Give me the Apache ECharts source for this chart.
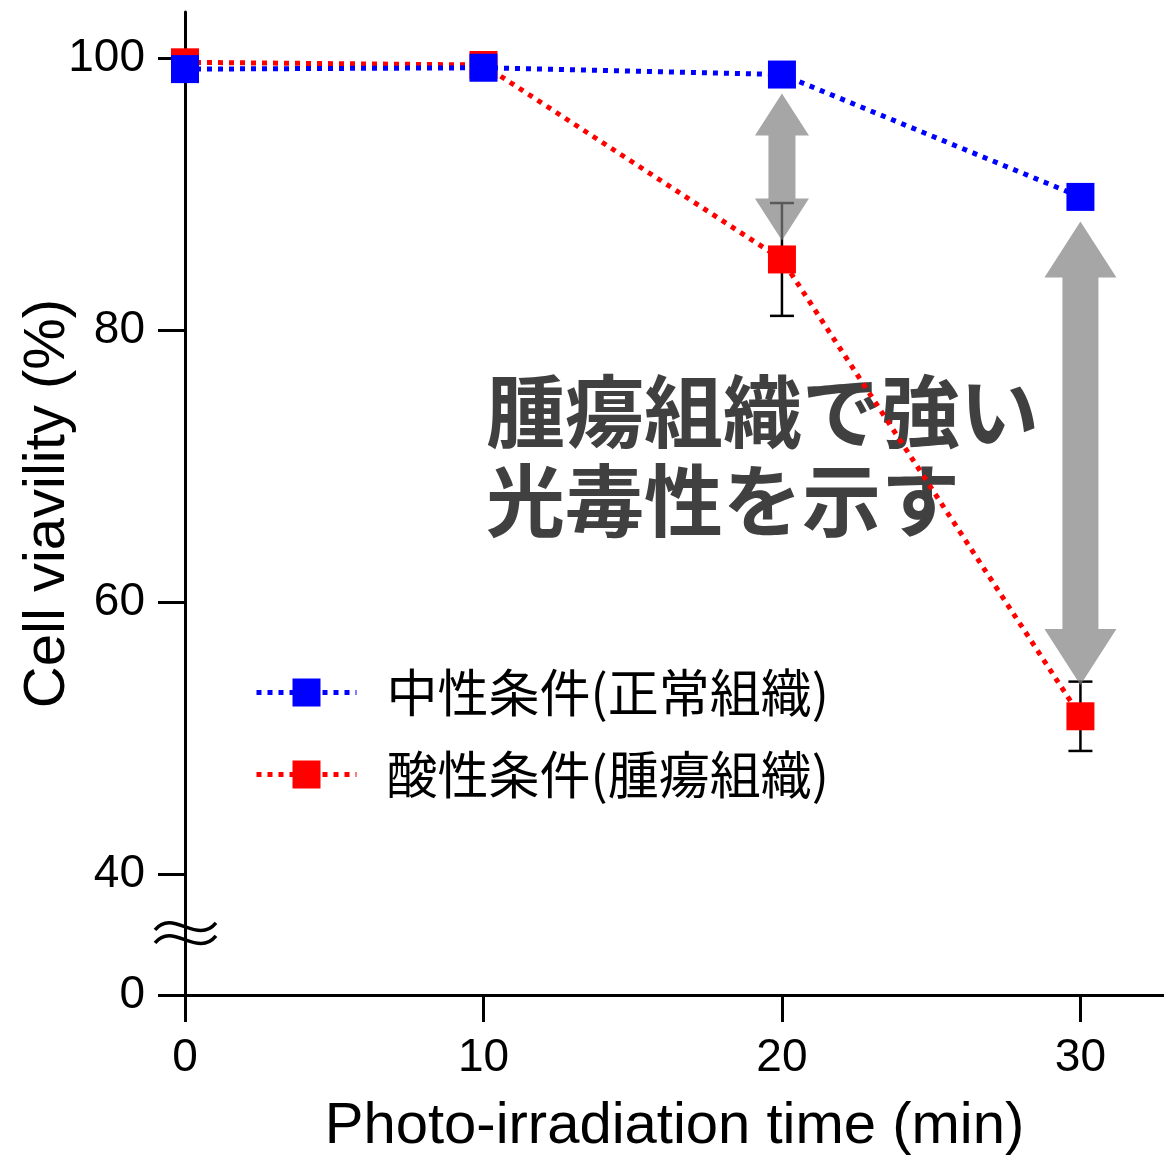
<!DOCTYPE html>
<html><head><meta charset="utf-8">
<script src="https://cdn.jsdelivr.net/npm/echarts@6/dist/echarts.min.js"></script>
<style>html,body{margin:0;padding:0;background:#fff}#c{width:1164px;height:1155px}</style>
</head><body><div id="c"></div>
<script>
const times = [0, 10, 20, 30];
const neutralValues = [99.2, 99.3, 98.8, 89.8];
const acidicValues = [99.7, 99.5, 85.2, 51.6];
const acidicErrors = [0, 0, 4.15, 2.55];
const neutralName = '中性条件(正常組織)';
const acidicName = '酸性条件(腫瘍組織)';
const xTicks = [0, 10, 20, 30];
const yTicks = [40, 60, 80, 100];
const yBreakValue = 31.1;   // bottom of broken axis, labelled "0"
const yBreakMark = 35.3;    // where the break symbol sits
const arrowX = [20, 30];
const arrowFrom = [97.4, 88.0];
const arrowTo = [86.6, 53.9];
const noteLines = ['腫瘍組織で強い', '光毒性を示す'];

const arrowHeadW = [54, 72], arrowHeadL = [42, 56], arrowShaftW = [27, 36];
const latin = 'Liberation Sans, Arial, sans-serif';
const cjk = '"Noto Sans CJK JP", sans-serif';

const chart = echarts.init(document.getElementById('c'), null, {renderer: 'canvas'});
const option = {
  animation: false,
  backgroundColor: '#fff',
  grid: {left: 185, right: 0, top: 12, bottom: 160, containLabel: false, outerBoundsMode: 'none'},
  legend: {
    data: [neutralName, acidicName],
    orient: 'vertical', left: 254, top: 667, padding: 0,
    itemWidth: 100, itemHeight: 35, itemGap: 31,
    lineStyle: {width: 5},
    textStyle: {fontFamily: cjk, fontSize: 51, color: '#000', lineHeight: 50, padding: [0, 0, 0, 25]}
  },
  xAxis: {
    type: 'value', min: 0, max: 32.8,
    axisLine: {onZero: false, lineStyle: {color: '#000', width: 3}},
    axisTick: {length: 27, customValues: xTicks, lineStyle: {color: '#000', width: 3}},
    axisLabel: {customValues: xTicks, margin: 40, fontSize: 46, color: '#000', fontFamily: latin},
    splitLine: {show: false},
    name: 'Photo-irradiation time (min)', nameLocation: 'middle', nameGap: 103, nameMoveOverlap: false,
    nameTextStyle: {fontSize: 58, color: '#000', fontFamily: latin}
  },
  yAxis: {
    type: 'value', min: yBreakValue, max: 103.4,
    axisLine: {show: true, onZero: false, lineStyle: {color: '#000', width: 3}},
    axisTick: {show: true, length: 27, customValues: [yBreakValue].concat(yTicks), lineStyle: {color: '#000', width: 3}},
    axisLabel: {customValues: [yBreakValue].concat(yTicks), margin: 40, fontSize: 46, color: '#000', fontFamily: latin,
      formatter: v => (v === yBreakValue ? '0' : String(v))},
    splitLine: {show: false},
    name: 'Cell viavility (%)', nameLocation: 'middle', nameGap: 108, nameMoveOverlap: false,
    nameTextStyle: {fontSize: 58, color: '#000', fontFamily: latin}
  },
  graphic: [{
    type: 'text', id: 'note', left: 486, top: 367, z: 0,
    style: {text: noteLines.join('\n'), font: 'bold 79px "Noto Sans CJK JP"', fill: '#404040', lineHeight: 89}
  }],
  series: [
    {
      type: 'custom', name: 'err', z: 2, silent: true,
      data: times.map((t, i) => [t, acidicValues[i], acidicErrors[i]]),
      renderItem: (params, api) => {
        const x = api.value(0), y = api.value(1), e = api.value(2);
        if (!e) return {type: 'group', children: []};
        const hi = api.coord([x, y + e]), lo = api.coord([x, y - e]);
        const st = {stroke: '#000', lineWidth: 2.5};
        return {type: 'group', children: [
          {type: 'line', shape: {x1: hi[0], y1: hi[1], x2: lo[0], y2: lo[1]}, style: st},
          {type: 'line', shape: {x1: hi[0] - 12, y1: hi[1], x2: hi[0] + 12, y2: hi[1]}, style: st},
          {type: 'line', shape: {x1: lo[0] - 12, y1: lo[1], x2: lo[0] + 12, y2: lo[1]}, style: st}
        ]};
      }
    },
    {
      type: 'custom', name: 'arrows', z: 3, silent: true,
      data: arrowX.map((x, i) => [x, arrowFrom[i], arrowTo[i]]),
      renderItem: (params, api) => {
        const i = params.dataIndex;
        const a = api.coord([api.value(0), api.value(1)]);
        const b = api.coord([api.value(0), api.value(2)]);
        const cx = a[0], ty = a[1], by = b[1];
        const hw = arrowHeadW[i] / 2, hl = arrowHeadL[i], sw = arrowShaftW[i] / 2;
        return {type: 'polygon', shape: {points: [
          [cx, ty], [cx + hw, ty + hl], [cx + sw, ty + hl], [cx + sw, by - hl], [cx + hw, by - hl],
          [cx, by], [cx - hw, by - hl], [cx - sw, by - hl], [cx - sw, ty + hl], [cx - hw, ty + hl]
        ]}, style: {fill: 'rgba(128,128,128,0.7)'}};
      }
    },
    {
      type: 'line', name: acidicName, z: 4,
      data: times.map((t, i) => [t, acidicValues[i]]),
      symbol: 'rect', symbolSize: 28,
      lineStyle: {color: '#ff0000', width: 5, type: [5, 6]},
      itemStyle: {color: '#ff0000'}
    },
    {
      type: 'line', name: neutralName, z: 5,
      data: times.map((t, i) => [t, neutralValues[i]]),
      symbol: 'rect', symbolSize: 28,
      lineStyle: {color: '#0000ff', width: 5, type: [5, 6]},
      itemStyle: {color: '#0000ff'}
    }
  ]
};
chart.setOption(option);

const c = chart.convertToPixel({gridIndex: 0}, [0, yBreakMark]);
const wave = (dy) => ({
  type: 'bezierCurve', z: 10,
  shape: {x1: c[0] - 30, y1: c[1] - 2 + dy, cpx1: c[0] - 12, cpy1: c[1] - 24 + dy,
          cpx2: c[0] + 12, cpy2: c[1] + 14 + dy, x2: c[0] + 31, y2: c[1] - 9 + dy},
  style: {stroke: '#000', lineWidth: 3.5, fill: null}
});
chart.setOption({graphic: [
  Object.assign({id: 'w1'}, wave(-6)),
  Object.assign({id: 'w2'}, wave(7))
]});
</script>
</body></html>
